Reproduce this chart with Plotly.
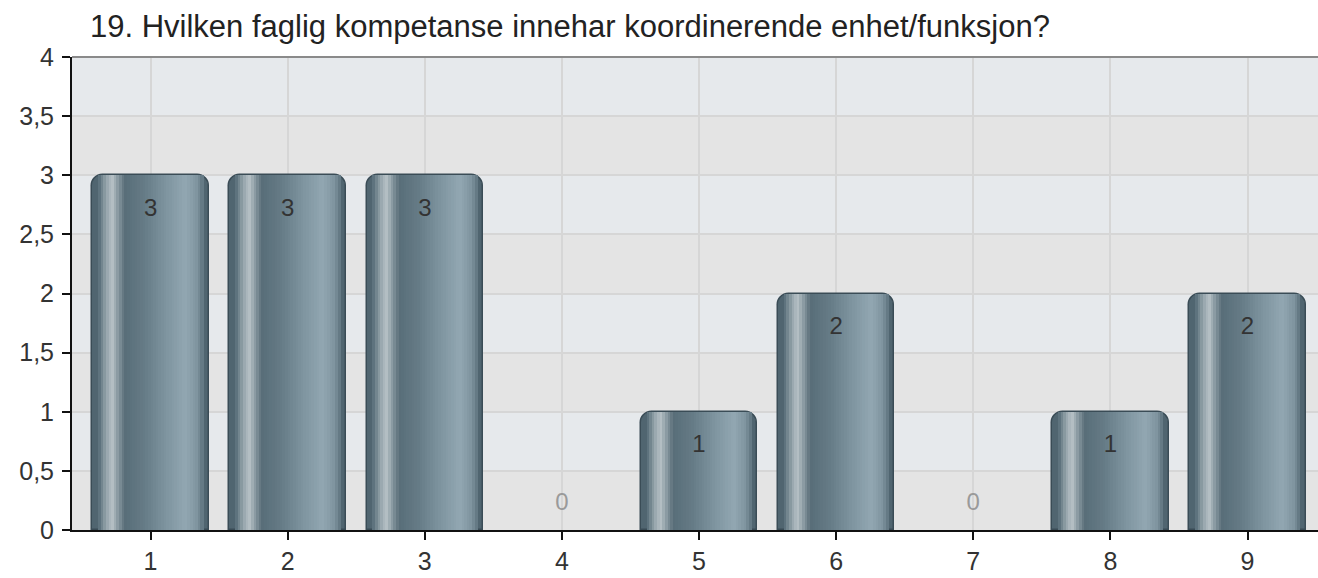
import plotly.graph_objects as go

categories = [1, 2, 3, 4, 5, 6, 7, 8, 9]
values = [3, 3, 3, 0, 1, 2, 0, 1, 2]
title_text = "19. Hvilken faglig kompetanse innehar koordinerende enhet/funksjon?"
y_ticks = [0, 0.5, 1, 1.5, 2, 2.5, 3, 3.5, 4]

BAR_W = 0.85
FONT = "Liberation Sans, Arial, sans-serif"

# gradient stops across bar width (fraction, color)
stops = [
    (0.00, (0x3f, 0x53, 0x5d)),
    (0.06, (0x5d, 0x72, 0x7d)),
    (0.12, (0x95, 0xa4, 0xab)),
    (0.17, (0xb6, 0xc1, 0xc6)),
    (0.22, (0x8a, 0x9a, 0xa2)),
    (0.28, (0x58, 0x6d, 0x78)),
    (0.45, (0x66, 0x7c, 0x87)),
    (0.65, (0x80, 0x96, 0xa1)),
    (0.80, (0x92, 0xa7, 0xb2)),
    (0.90, (0x7f, 0x94, 0x9f)),
    (0.96, (0x56, 0x6b, 0x76)),
    (1.00, (0x3e, 0x52, 0x5c)),
]


def grad(f):
    for (f0, c0), (f1, c1) in zip(stops[:-1], stops[1:]):
        if f0 <= f <= f1:
            t = (f - f0) / (f1 - f0) if f1 > f0 else 0
            c = [round(a + (b - a) * t) for a, b in zip(c0, c1)]
            return "rgb(%d,%d,%d)" % tuple(c)
    return "rgb(62,82,92)"


fig = go.Figure()

# base rounded bar
fig.add_trace(go.Bar(
    x=categories, y=values, width=BAR_W,
    marker=dict(color="#506570",
                line=dict(color="#3a4c56", width=[1.5 if v > 0 else 0 for v in values]),
                cornerradius=12),
    hoverinfo="skip", showlegend=False,
))

# gradient strips inside the bar
f_start, f_end = 0.05, 0.95
n = 40
step = (f_end - f_start) / n
for i in range(n):
    f = f_start + (i + 0.5) * step
    off = -BAR_W / 2 + (f_start + i * step) * BAR_W
    fig.add_trace(go.Bar(
        x=categories, y=values, width=step * BAR_W * 1.2, offset=off,
        marker=dict(color=grad(f), line=dict(width=0)),
        hoverinfo="skip", showlegend=False,
    ))

# value labels
label_y = [v - 0.29 if v > 0 else 0.22 for v in values]
label_col = ["#333333" if v > 0 else "#9a9a9a" for v in values]
fig.add_trace(go.Scatter(
    x=categories, y=label_y, mode="text", text=[str(v) for v in values],
    textfont=dict(size=24, color=label_col, family=FONT),
    hoverinfo="skip", showlegend=False,
))

# alternating background bands
shapes = []
for i in range(len(y_ticks) - 1):
    shapes.append(dict(
        type="rect", xref="paper", yref="y", x0=0, x1=1,
        y0=y_ticks[i], y1=y_ticks[i + 1], layer="below", line=dict(width=0),
        fillcolor="#e4e4e4" if i % 2 == 0 else "#e6e9ec",
    ))
shapes.append(dict(type="line", xref="paper", yref="paper", x0=0, x1=1, y0=1, y1=1,
                   line=dict(color="#8a8a8a", width=2)))

fig.update_layout(
    width=1318, height=578,
    margin=dict(l=72, r=0, t=57, b=48, autoexpand=False),
    paper_bgcolor="white", plot_bgcolor="rgba(0,0,0,0)",
    barmode="overlay", bargap=0,
    separators=", ",
    shapes=shapes,
    font=dict(family=FONT, color="#333333"),
    title=dict(text=title_text, x=90 / 1318, xanchor="left", y=1 - 26 / 578,
               yanchor="middle", font=dict(size=31, color="#222222", family=FONT)),
    xaxis=dict(range=[0.427, 9.514], tickmode="array", tickvals=categories,
               ticktext=[str(c) for c in categories], automargin=False,
               showgrid=True, gridcolor="#d6d6d6", gridwidth=2,
               showline=True, linecolor="#111111", linewidth=2,
               ticks="outside", ticklen=8, tickcolor="#111111", tickwidth=2,
               tickfont=dict(size=25, color="#333333"), zeroline=False),
    yaxis=dict(range=[0, 4], tickmode="array", tickvals=y_ticks, automargin=False,
               showgrid=True, gridcolor="#d6d6d6", gridwidth=2,
               showline=True, linecolor="#111111", linewidth=2,
               ticks="outside", ticklen=8, tickcolor="#111111", tickwidth=2,
               ticklabelstandoff=3,
               tickfont=dict(size=25, color="#333333"), zeroline=False),
)

fig.write_html("out.html", config={"displayModeBar": False},
               post_script="document.body.style.margin='0';document.body.style.overflow='hidden';")
